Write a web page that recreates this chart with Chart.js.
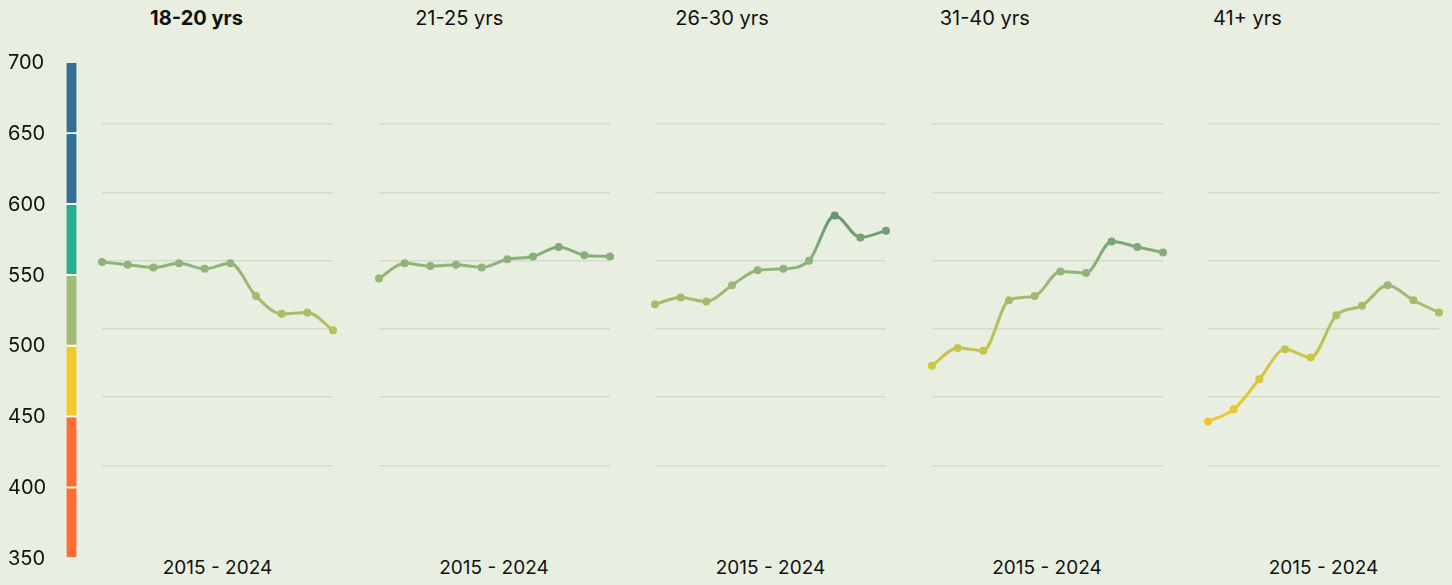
<!DOCTYPE html>
<html>
<head>
<meta charset="utf-8">
<script src="https://cdn.jsdelivr.net/npm/chart.js@4.4.1/dist/chart.umd.min.js"></script>
<style>
    body { margin: 0; background: #e8eee0; width: 1452px; height: 585px; overflow: hidden; font-family: Inter, sans-serif; color: #111; }
    .title { position: absolute; top: 6px; font-size: 20px; line-height: 24px; width: 263px; text-align: center; }
    .xlab { position: absolute; top: 556px; font-size: 19px; line-height: 24px; width: 231px; text-align: center; }
    canvas { position: absolute; }
</style>
</head>
<body>
<div id="root"></div>
<script>
// data
const years = ['2015', '2016', '2017', '2018', '2019', '2020', '2021', '2022', '2023', '2024'];
const ageGroups = ['18-20 yrs', '21-25 yrs', '26-30 yrs', '31-40 yrs', '41+ yrs'];
const periodLabel = '2015 - 2024';
const scores1820 = [549, 547, 545, 548, 544, 548, 524, 511, 512, 499];
const scores2125 = [537, 548, 546, 547, 545, 551, 553, 560, 554, 553];
const scores2630 = [518, 523, 520, 532, 543, 544, 550, 583, 567, 572];
const scores3140 = [473, 486, 484, 521, 524, 542, 541, 564, 560, 556];
const scores41 = [432, 441, 463, 485, 479, 510, 517, 532, 521, 512];
const allScores = [scores1820, scores2125, scores2630, scores3140, scores41];
const bandLow = [350, 400, 450, 500, 550, 600, 650];
const bandHigh = [400, 450, 500, 550, 600, 650, 700];
const bandColors = ['#ff6d33', '#ff6d33', '#f2c92c', '#a3bb79', '#27ad8f', '#336f95', '#336f95'];
const yMin = 350, yMax = 700, yStep = 50;

// colour ramp used for points and lines
const ramp = [[430, '#f2c62c'], [470, '#d4c63f'], [500, '#b6c05c'], [525, '#a0ba72'], [550, '#8db27a'], [585, '#5e9470'], [620, '#3a8a80']];

function hexRgb(h) {
    return [1, 3, 5].map(i => parseInt(h.substr(i, 2), 16));
}
function colorFor(v) {
    if (v <= ramp[0][0]) return ramp[0][1];
    for (let i = 1; i < ramp.length; i++) {
        if (v <= ramp[i][0]) {
            const t = (v - ramp[i - 1][0]) / (ramp[i][0] - ramp[i - 1][0]);
            const a = hexRgb(ramp[i - 1][1]), b = hexRgb(ramp[i][1]);
            const c = a.map((x, k) => Math.round(x + (b[k] - x) * t));
            return 'rgb(' + c.join(',') + ')';
        }
    }
    return ramp[ramp.length - 1][1];
}

const root = document.getElementById('root');

function addEl(tag, cls, css, text) {
    const el = document.createElement(tag);
    if (cls) el.className = cls;
    Object.assign(el.style, css);
    if (text) el.textContent = text;
    root.appendChild(el);
    return el;
}

// left colour scale
function setupScale() {
    const cv = addEl('canvas', null, { left: '0px', top: '48px' });
    cv.width = 77; cv.height = 527;
    new Chart(cv, {
        type: 'bar',
        data: {
            labels: ['scale'],
            datasets: [{
                data: bandLow.map((lo, i) => ({ x: 'scale', y: [lo, bandHigh[i]] })),
                backgroundColor: bandColors,
                borderColor: '#ffffff',
                borderWidth: { top: 0, left: 0, right: 0, bottom: 2 },
                borderSkipped: false,
                barThickness: 10
            }]
        },
        options: {
            responsive: false,
            animation: false,
            layout: { padding: { left: 8, top: 12, bottom: 16, right: 0 } },
            plugins: { legend: { display: false }, tooltip: { enabled: false } },
            scales: {
                x: { display: false },
                y: {
                    min: yMin, max: yMax,
                    grid: { display: false },
                    border: { display: false },
                    ticks: { stepSize: yStep, crossAlign: 'far', color: '#111', font: { family: 'Inter', size: 20 } },
                    afterFit: s => { s.width = 58; }
                }
            }
        }
    });
}

function setupPanel(i) {
    const left = 102 + i * 276.5;
    const titleLeft = 65 + i * 262.75;
    addEl('div', 'title', { left: titleLeft + 'px', fontWeight: i === 0 ? '700' : '400' }, ageGroups[i]);
    addEl('div', 'xlab', { left: left + 'px' }, periodLabel);

    const cv = addEl('canvas', null, { left: (left - 6) + 'px', top: '50px' });
    cv.width = 243; cv.height = 490;
    const values = allScores[i];
    new Chart(cv, {
        type: 'line',
        data: {
            labels: years,
            datasets: [{
                data: values,
                borderWidth: 3,
                pointRadius: 4,
                pointBorderWidth: 0,
                pointBackgroundColor: c => colorFor(values[c.dataIndex]),
                cubicInterpolationMode: 'monotone',
                clip: false,
                segment: {
                    borderColor: c => {
                        const g = c.chart.ctx.createLinearGradient(c.p0.x, c.p0.y, c.p1.x, c.p1.y);
                        g.addColorStop(0, colorFor(values[c.p0DataIndex]));
                        g.addColorStop(1, colorFor(values[c.p1DataIndex]));
                        return g;
                    }
                }
            }]
        },
        options: {
            responsive: false,
            animation: false,
            layout: { padding: { left: 6, right: 6, top: 6, bottom: 6.5 } },
            plugins: { legend: { display: false }, tooltip: { enabled: false } },
            scales: {
                x: { display: false },
                y: {
                    min: yMin, max: yMax,
                    border: { display: false },
                    ticks: { display: false, stepSize: yStep },
                    grid: {
                        drawTicks: false,
                        lineWidth: 1.5,
                        color: c => (c.tick && c.tick.value > yMin && c.tick.value < yMax) ? '#d3d9cb' : 'rgba(0,0,0,0)'
                    },
                    afterFit: s => { s.width = 0; }
                }
            }
        }
    });
}

setupScale();
ageGroups.forEach((g, i) => setupPanel(i));
</script>
</body>
</html>
